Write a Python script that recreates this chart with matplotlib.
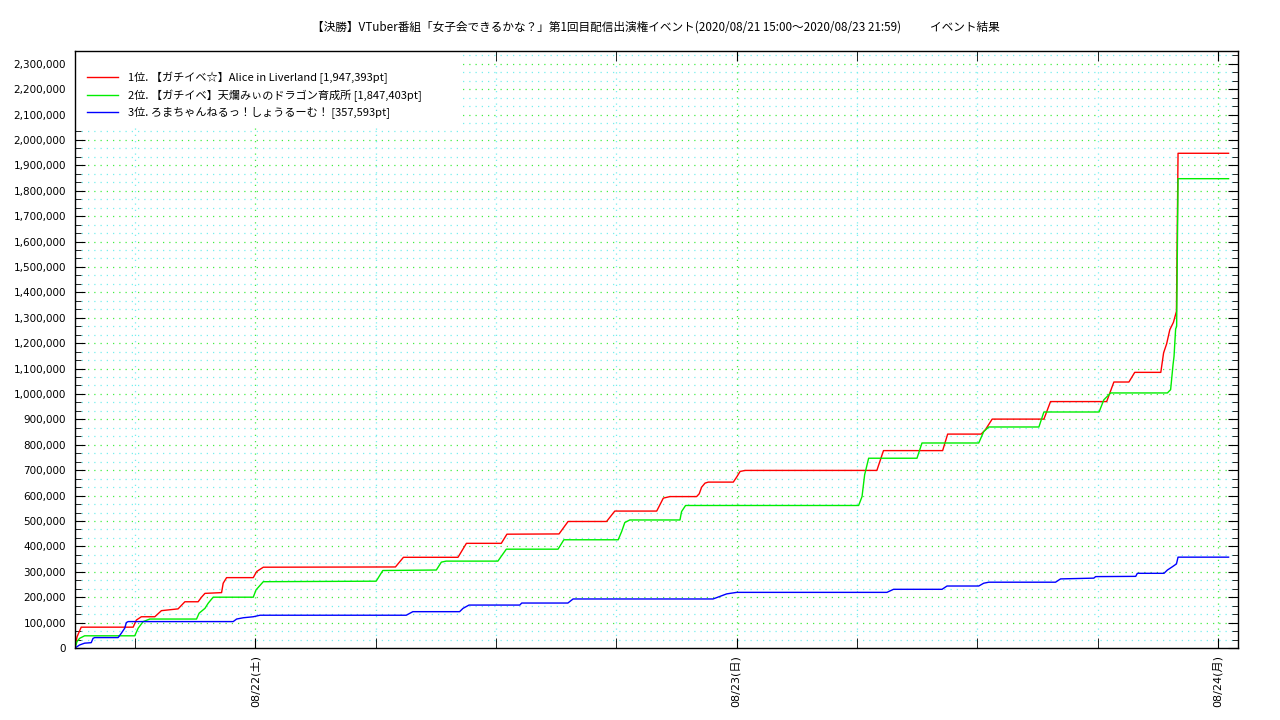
import matplotlib
matplotlib.use("Agg")
import matplotlib.pyplot as plt
import matplotlib.dates as mdates
from matplotlib.ticker import FuncFormatter, MultipleLocator
from matplotlib.patches import Rectangle
import pandas as pd

plt.rcParams['font.family'] = ['Noto Sans CJK JP', 'DejaVu Sans']

title = "【決勝】VTuber番組「女子会できるかな？」第1回目配信出演権イベント(2020/08/21 15:00～2020/08/23 21:59)           イベント結果"
start = pd.Timestamp("2020-08-21 15:00")
end = pd.Timestamp("2020-08-24 01:00")

labels = [
    "1位. 【ガチイベ☆】Alice in Liverland [1,947,393pt]",
    "2位. 【ガチイベ】天爛みぃのドラゴン育成所 [1,847,403pt]",
    "3位. ろまちゃんねるっ！しょうるーむ！ [357,593pt]",
]
colors = ["#ff0000", "#00ee00", "#0000ff"]

# hours since 08/21 15:00 and cumulative points
red_h = [0, 0.10, 0.31, 2.90, 3.06, 3.31, 3.98, 4.31, 5.14, 5.48, 6.14, 6.31, 6.48, 7.31, 7.39, 7.56,
         8.89, 9.06, 9.39, 15.98, 16.38, 19.10, 19.52, 21.26, 21.54, 24.14, 24.59, 26.51, 26.92,
         29.01, 29.34, 29.67, 31.00, 31.13, 31.25, 31.42, 31.58, 32.83, 33.00, 33.17, 33.42,
         39.99, 40.32, 43.27, 43.52, 45.19, 45.40, 45.74, 48.32, 48.65, 51.45, 51.81, 52.56,
         52.85, 54.15, 54.29, 54.44, 54.60, 54.78, 54.93, 55.01, 57.53]
red_v = [0, 44000, 82000, 82000, 110000, 123000, 123000, 147000, 154000, 182000, 182000, 200000,
         215000, 218000, 255000, 277000, 277000, 301000, 318000, 319000, 357000, 357000, 412000,
         412000, 448000, 449000, 498000, 498000, 539000, 539000, 590000, 596000, 596000, 607000,
         633000, 649000, 653000, 653000, 673000, 695000, 699000, 699000, 777000, 777000, 842000,
         842000, 859000, 901000, 901000, 970000, 970000, 1047000, 1047000, 1085000, 1085000,
         1162000, 1197000, 1253000, 1282000, 1325000, 1947393, 1947393]

green_h = [0, 0.10, 0.23, 0.48, 2.98, 3.15, 3.40, 3.73, 6.06, 6.19, 6.48, 6.64, 6.89, 8.89, 9.03,
           9.39, 15.02, 15.35, 18.02, 18.27, 18.51, 21.09, 21.51, 24.09, 24.38, 27.09, 27.26,
           27.42, 27.67, 30.17, 30.25, 30.45, 39.08, 39.25, 39.38, 39.58, 41.99, 42.24, 45.07,
           45.32, 45.57, 48.07, 48.32, 51.07, 51.31, 51.65, 54.48, 54.64, 54.76, 54.81, 54.89,
           54.94, 55.01, 57.53]
green_v = [0, 25000, 38000, 48000, 48000, 78000, 104000, 114000, 114000, 137000, 156000, 176000,
           200000, 200000, 229000, 261000, 263000, 305000, 307000, 338000, 342000, 342000, 389000,
           389000, 426000, 426000, 458000, 494000, 504000, 504000, 537000, 561000, 561000, 596000,
           682000, 747000, 747000, 807000, 807000, 852000, 870000, 870000, 929000, 929000, 977000,
           1004000, 1004000, 1017000, 1115000, 1148000, 1256000, 1266000, 1847403, 1847403]

blue_h = [0, 0.23, 0.48, 0.81, 0.90, 0.98, 2.15, 2.31, 2.48, 2.56, 2.65, 7.89, 8.06, 8.39, 8.89,
          9.23, 16.52, 16.85, 19.18, 19.35, 19.65, 22.18, 22.28, 24.58, 24.84, 31.82, 32.50,
          33.00, 40.49, 40.82, 43.24, 43.49, 45.07, 45.32, 45.57, 48.90, 49.15, 50.81, 50.90,
          52.90, 52.98, 54.31, 54.48, 54.73, 54.93, 55.01, 57.53]
blue_v = [0, 12000, 19000, 21000, 38000, 41000, 41000, 58000, 78000, 100000, 104000, 104000,
          114000, 119000, 123000, 129000, 129000, 143000, 143000, 156000, 169000, 169000, 177000,
          177000, 193000, 193000, 213000, 219000, 219000, 231000, 231000, 244000, 244000, 255000,
          259000, 259000, 272000, 275000, 281000, 282000, 294000, 294000, 307000, 320000, 331000,
          357593, 357593]

weekdays = ["月", "火", "水", "木", "金", "土", "日"]

fig = plt.figure(figsize=(12.8, 7.2), dpi=100)
ax = fig.add_axes([75 / 1280, 1 - 648 / 720, (1238 - 75) / 1280, (648 - 51) / 720])

series = [(red_h, red_v), (green_h, green_v), (blue_h, blue_v)]
for (hs, vs), c, lab in zip(series, colors, labels):
    t = [start + pd.Timedelta(hours=h) for h in hs]
    ax.plot(t, vs, color=c, lw=1.0, label=lab, zorder=2)

ax.set_xlim(start, end)
ax.set_ylim(0, 2350000)

ax.yaxis.set_major_locator(MultipleLocator(100000))
ax.yaxis.set_minor_locator(MultipleLocator(100000 / 3))
ax.yaxis.set_major_formatter(FuncFormatter(lambda v, p: f"{int(round(v)):,}"))

ax.xaxis.set_major_locator(mdates.HourLocator(byhour=[0]))
ax.xaxis.set_minor_locator(mdates.HourLocator(byhour=[6, 12, 18]))

def xfmt(v, p):
    d = mdates.num2date(v)
    return f"{d:%m/%d}({weekdays[d.weekday()]})"

ax.xaxis.set_major_formatter(FuncFormatter(xfmt))

ax.tick_params(axis="both", which="both", direction="in", top=True, right=True)
ax.tick_params(axis="y", which="major", length=7, labelsize=7.5, pad=6.5)
ax.tick_params(axis="y", which="minor", length=4)
ax.tick_params(axis="x", which="both", length=7, labelsize=8, pad=5)
for lbl in ax.get_yticklabels():
    lbl.set_family("DejaVu Sans")
for lbl in ax.get_xticklabels():
    lbl.set_family(["DejaVu Sans", "Noto Sans CJK JP"])
    lbl.set_rotation(90)

# dotted grid drawn below the data, taken from the axis locators
grid_ls = (0, (1, 4))
major_c, minor_c = "#44ee44", "#77eeee"
for y in ax.yaxis.get_majorticklocs():
    if 0 < y < 2350000:
        ax.axhline(y, color=major_c, ls=grid_ls, lw=0.9, zorder=0.5)
for y in ax.yaxis.get_minorticklocs():
    if 0 < y < 2350000:
        ax.axhline(y, color=minor_c, ls=grid_ls, lw=0.9, zorder=0.5)
for x in ax.xaxis.get_majorticklocs():
    ax.axvline(x, color=major_c, ls=grid_ls, lw=0.9, zorder=0.5)
for x in ax.xaxis.get_minorticklocs():
    ax.axvline(x, color=minor_c, ls=grid_ls, lw=0.9, zorder=0.5)

for s in ax.spines.values():
    s.set_linewidth(1.0)

# white key box (gnuplot style)
ax.add_patch(Rectangle((0.0009, 0.871), 0.3327, 0.127, transform=ax.transAxes,
                       facecolor="white", edgecolor="none", zorder=2.1))

leg = ax.legend(loc="upper left", bbox_to_anchor=(0.0, 0.9856), fontsize=8, frameon=False,
                handlelength=2.8, handletextpad=0.9, borderaxespad=0.0,
                borderpad=1.1, labelspacing=0.45)
leg.set_zorder(2.2)

fig.text(656 / 1280, 1 - 27 / 720, title, ha="center", va="center", fontsize=8.4)

fig.savefig("out.png", dpi=100)
